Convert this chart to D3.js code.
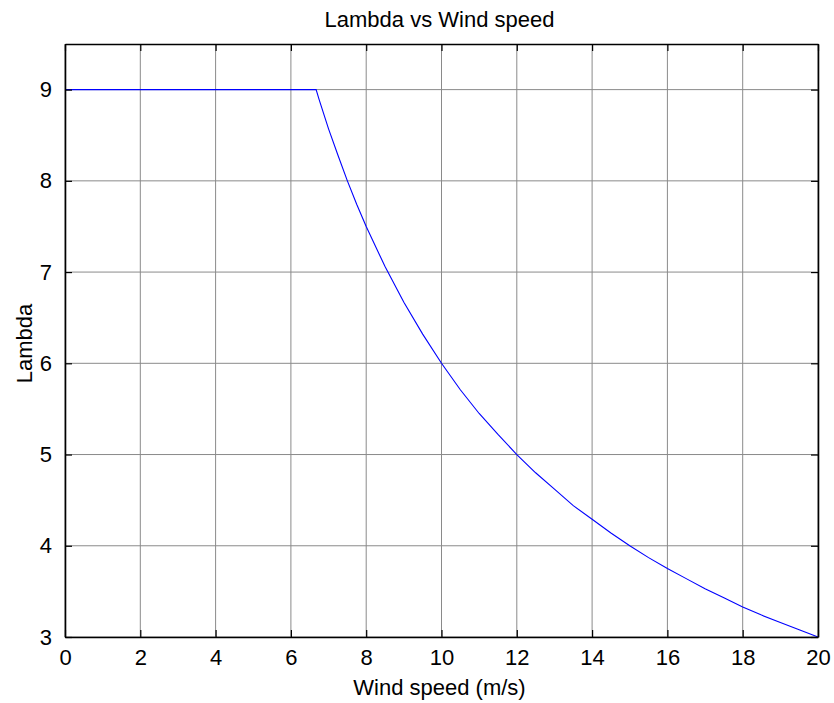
<!DOCTYPE html>
<html>
<head>
<meta charset="utf-8">
<script src="https://cdn.jsdelivr.net/npm/d3@7"></script>
<style>
  body { margin: 0; background: #fff; }
  svg { display: block; font-family: "Liberation Sans", Arial, sans-serif; }
</style>
</head>
<body>
<svg id="chart" width="834" height="703"></svg>
<script>
// Wind speed (m/s) and tip speed ratio
var windSpeed = [0, 6.67, 6.75, 7, 7.25, 7.5, 7.75, 8, 8.5, 9, 9.5, 10, 10.5, 11, 11.5, 12, 12.5, 13, 13.5,
                 14, 14.5, 15, 15.5, 16, 16.5, 17, 17.5, 18, 18.5, 19, 19.5, 20];
var lambda = [9, 9, 8.89, 8.57, 8.28, 8.0, 7.74, 7.5, 7.06, 6.67, 6.32, 6.0, 5.71, 5.45, 5.22, 5.0, 4.8, 4.62, 4.44,
              4.29, 4.14, 4.0, 3.87, 3.75, 3.64, 3.53, 3.43, 3.33, 3.24, 3.16, 3.08, 3.0];
var xTicks = [0, 2, 4, 6, 8, 10, 12, 14, 16, 18, 20];
var yTicks = [3, 4, 5, 6, 7, 8, 9];

var titleText = "Lambda vs Wind speed";
var xLabelText = "Wind speed (m/s)";
var yLabelText = "Lambda";

var margin = {top: 44, right: 16, bottom: 66, left: 65};
var W = 834, H = 703;
var w = W - margin.left - margin.right;
var h = H - margin.top - margin.bottom;
var fontSize = "22px";

var svg = d3.select("#chart");
var g = svg.append("g")
    .attr("transform", "translate(" + margin.left + "," + margin.top + ")");

var x = d3.scaleLinear().domain([0, 20]).range([0, w]);
var y = d3.scaleLinear().domain([3, 9.5]).range([h, 0]);

// grid lines
g.append("g").selectAll("line.gx")
    .data(xTicks).enter().append("line")
    .attr("x1", function(d) { return x(d); })
    .attr("x2", function(d) { return x(d); })
    .attr("y1", 0).attr("y2", h)
    .attr("stroke", "#8a8a8a").attr("stroke-width", 1);
g.append("g").selectAll("line.gy")
    .data(yTicks).enter().append("line")
    .attr("x1", 0).attr("x2", w)
    .attr("y1", function(d) { return y(d); })
    .attr("y2", function(d) { return y(d); })
    .attr("stroke", "#8a8a8a").attr("stroke-width", 1);

// data line
var line = d3.line()
    .x(function(d) { return x(d[0]); })
    .y(function(d) { return y(d[1]); });
g.append("path")
    .datum(d3.zip(windSpeed, lambda))
    .attr("fill", "none")
    .attr("stroke", "#0000ff")
    .attr("stroke-width", 1.1)
    .attr("d", line);

// axes, ticks pointing inward (matlab style box)
var tickLen = 7;
var fmt = d3.format("d");
var bottomAxis = d3.axisBottom(x).tickValues(xTicks).tickFormat(fmt)
    .tickSizeInner(-tickLen).tickSizeOuter(0).tickPadding(tickLen + 5);
var leftAxis = d3.axisLeft(y).tickValues(yTicks).tickFormat(fmt)
    .tickSizeInner(-tickLen).tickSizeOuter(0).tickPadding(tickLen + 6);
var topAxis = d3.axisTop(x).tickValues(xTicks).tickSizeInner(-tickLen).tickSizeOuter(0).tickFormat("");
var rightAxis = d3.axisRight(y).tickValues(yTicks).tickSizeInner(-tickLen).tickSizeOuter(0).tickFormat("");

function styleAxis(sel) {
  sel.select(".domain").attr("stroke", "#000").attr("stroke-width", 1.6);
  sel.selectAll(".tick line").attr("stroke", "#000").attr("stroke-width", 1.2);
  sel.selectAll(".tick text").attr("fill", "#000").style("font-size", fontSize)
     .style("font-family", "'Liberation Sans', Arial, sans-serif");
}

g.append("g").attr("transform", "translate(0," + h + ")").call(bottomAxis).call(styleAxis);
g.append("g").call(leftAxis).call(styleAxis);
g.append("g").call(topAxis).call(styleAxis);
g.append("g").attr("transform", "translate(" + w + ",0)").call(rightAxis).call(styleAxis);

// titles
svg.append("text")
    .attr("x", margin.left + w / 2 - 2).attr("y", 27)
    .attr("text-anchor", "middle")
    .style("font-size", fontSize)
    .text(titleText);
svg.append("text")
    .attr("x", margin.left + w / 2 - 2).attr("y", 695)
    .attr("text-anchor", "middle")
    .style("font-size", fontSize)
    .text(xLabelText);
svg.append("text")
    .attr("transform", "translate(32," + (margin.top + h / 2 + 3) + ") rotate(-90)")
    .attr("text-anchor", "middle")
    .style("font-size", fontSize)
    .text(yLabelText);
</script>
</body>
</html>
